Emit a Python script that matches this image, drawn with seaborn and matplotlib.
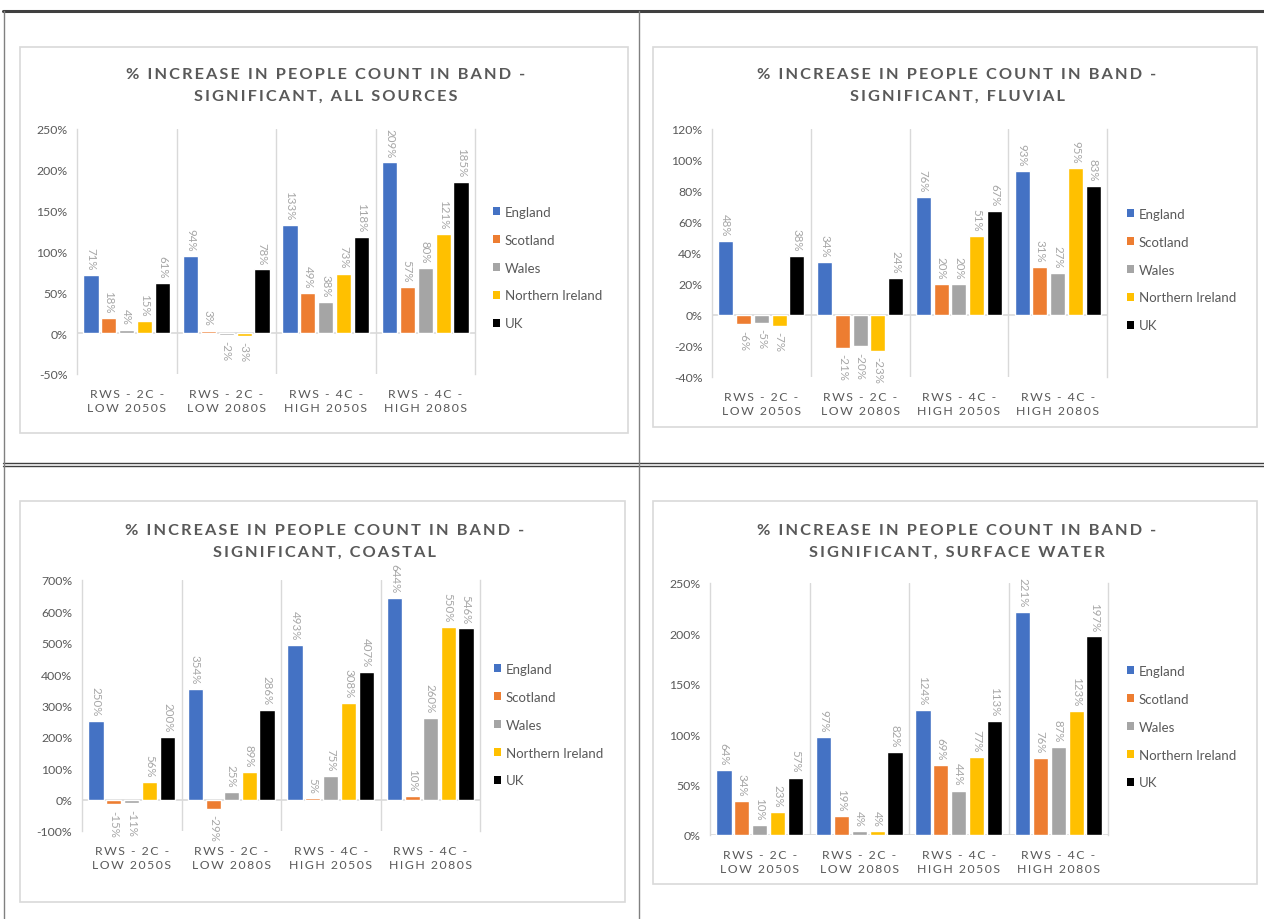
import numpy as np
import pandas as pd
import matplotlib
matplotlib.use("Agg")
import matplotlib.pyplot as plt
from matplotlib.patches import Rectangle, Patch
from matplotlib.lines import Line2D
import seaborn as sns

# ---- data -------------------------------------------------------------
scenarios = ["RWS - 2C -\nLOW 2050S", "RWS - 2C -\nLOW 2080S",
             "RWS - 4C -\nHIGH 2050S", "RWS - 4C -\nHIGH 2080S"]
regions = ["England", "Scotland", "Wales", "Northern Ireland", "UK"]
region_colors = ["#4472C4", "#ED7D31", "#A5A5A5", "#FFC000", "#000000"]

# values per scenario, in region order (percent)
all_sources = [[71, 18, 4, 15, 61],
               [94, 3, -2, -3, 78],
               [133, 49, 38, 73, 118],
               [209, 57, 80, 121, 185]]
fluvial = [[48, -6, -5, -7, 38],
           [34, -21, -20, -23, 24],
           [76, 20, 20, 51, 67],
           [93, 31, 27, 95, 83]]
coastal = [[250, -15, -11, 56, 200],
           [354, -29, 25, 89, 286],
           [493, 5, 75, 308, 407],
           [644, 10, 260, 550, 546]]
surface_water = [[64, 34, 10, 23, 57],
                 [97, 19, 4, 4, 82],
                 [124, 69, 44, 77, 113],
                 [221, 76, 87, 123, 197]]

titles = ["% INCREASE IN PEOPLE COUNT IN BAND -\nSIGNIFICANT, ALL SOURCES",
          "% INCREASE IN PEOPLE COUNT IN BAND -\nSIGNIFICANT, FLUVIAL",
          "% INCREASE IN PEOPLE COUNT IN BAND -\nSIGNIFICANT, COASTAL",
          "% INCREASE IN PEOPLE COUNT IN BAND -\nSIGNIFICANT, SURFACE WATER"]
y_ticks = [list(range(-50, 251, 50)),
           list(range(-40, 121, 20)),
           list(range(-100, 701, 100)),
           list(range(0, 251, 50))]

# ---- styling ----------------------------------------------------------
sns.set_style("white")
plt.rcParams["font.family"] = ["Lato", "DejaVu Sans"]

W, H = 1264, 920
fig = plt.figure(figsize=(W / 100, H / 100), dpi=100)
fig.patch.set_facecolor("white")

TEXT = "#595959"
LABEL = "#A6A6A6"
GRID = "#D9D9D9"
THIN = "\u2009"


def spaced(s):
    return "\n".join(THIN.join(line) for line in s.split("\n"))


def fx(x):
    return x / W


def fy(y):
    return 1 - y / H


def hline(x0, x1, y, color, lw):
    fig.add_artist(Line2D([fx(x0), fx(x1)], [fy(y), fy(y)], color=color,
                          lw=lw, transform=fig.transFigure))


def vline(x, y0, y1, color, lw):
    fig.add_artist(Line2D([fx(x), fx(x)], [fy(y0), fy(y1)], color=color,
                          lw=lw, transform=fig.transFigure))


# table grid holding the four charts
hline(3, W, 12, "#404040", 2.2)
hline(3, W, 464, "#404040", 1.0)
hline(3, W, 466.5, "#404040", 1.0)
vline(4, 12, H, "#808080", 1.0)
vline(639, 12, H, "#808080", 1.0)

# chart layouts in pixels: frame, plot area, title y, legend anchor
layouts = [
    dict(frame=(20, 48, 628, 434), plot=(77, 130, 475, 375), title_y=86,
         legend=(493, 207)),
    dict(frame=(653, 48, 1257, 428), plot=(712, 130, 1107, 378), title_y=86,
         legend=(1127, 209)),
    dict(frame=(20, 502, 625, 903), plot=(82, 581, 480, 832), title_y=542,
         legend=(494, 664)),
    dict(frame=(653, 502, 1257, 885), plot=(710, 584, 1108, 836), title_y=542,
         legend=(1127, 666)),
]

datasets = [all_sources, fluvial, coastal, surface_water]

for data, title, ticks, lay in zip(datasets, titles, y_ticks, layouts):
    # chart frame
    x0, y0, x1, y1 = lay["frame"]
    fig.add_artist(Rectangle((fx(x0), fy(y1)), fx(x1) - fx(x0), fy(y0) - fy(y1),
                             transform=fig.transFigure, fill=False,
                             edgecolor=GRID, lw=1.2))

    df = pd.DataFrame([(s, r, v) for s, row in zip(scenarios, data)
                       for r, v in zip(regions, row)],
                      columns=["scenario", "region", "value"])

    px0, py0, px1, py1 = lay["plot"]
    ax = fig.add_axes([fx(px0), fy(py1), fx(px1) - fx(px0), fy(py0) - fy(py1)])
    sns.barplot(data=df, x="scenario", y="value", hue="region",
                hue_order=regions, palette=region_colors, order=scenarios,
                width=0.9, gap=0.15, ax=ax, legend=False, saturation=1)

    for cont in ax.containers:
        ax.bar_label(cont, fmt="%d%%", rotation=-90, padding=4,
                     fontsize=8.3, color=LABEL)

    ax.set_xlim(-0.5, 3.5)
    ax.set_ylim(ticks[0], ticks[-1])
    ax.set_yticks(ticks)
    ax.set_yticklabels([f"{t}%" for t in ticks], fontsize=8.8, color=TEXT)
    ax.set_xticks(range(len(scenarios)))
    ax.set_xticklabels([spaced(s) for s in scenarios], fontsize=8.8,
                       color=TEXT, linespacing=1.4)
    ax.tick_params(axis="x", length=0, pad=10)
    ax.tick_params(axis="y", length=4, width=1, color=GRID, pad=3)
    ax.set_xlabel("")
    ax.set_ylabel("")

    for side in ["top", "bottom"]:
        ax.spines[side].set_visible(False)
    for side in ["left", "right"]:
        ax.spines[side].set_color(GRID)
        ax.spines[side].set_linewidth(1)
    for b in [0.5, 1.5, 2.5]:
        ax.axvline(b, color=GRID, lw=1, zorder=0)
    ax.axhline(0, color=GRID, lw=1.2, zorder=0.5)

    # title
    fx0, fy0, fx1, fy1 = lay["frame"]
    fig.text(fx((fx0 + fx1) / 2 + 2), fy(lay["title_y"]), spaced(title),
             ha="center", va="center", fontsize=11.8, fontweight="bold",
             color=TEXT, linespacing=1.75)

    # legend
    handles = [Patch(facecolor=c, edgecolor="none") for c in region_colors]
    lx, ly = lay["legend"]
    ax.legend(handles, regions, loc="upper left",
              bbox_to_anchor=(fx(lx), fy(ly)), bbox_transform=fig.transFigure,
              frameon=False, fontsize=9.5, labelcolor=TEXT,
              handlelength=0.55, handleheight=0.55, handletextpad=0.35,
              labelspacing=1.2, borderpad=0, borderaxespad=0)

fig.savefig("out.png", dpi=100, facecolor="white")
